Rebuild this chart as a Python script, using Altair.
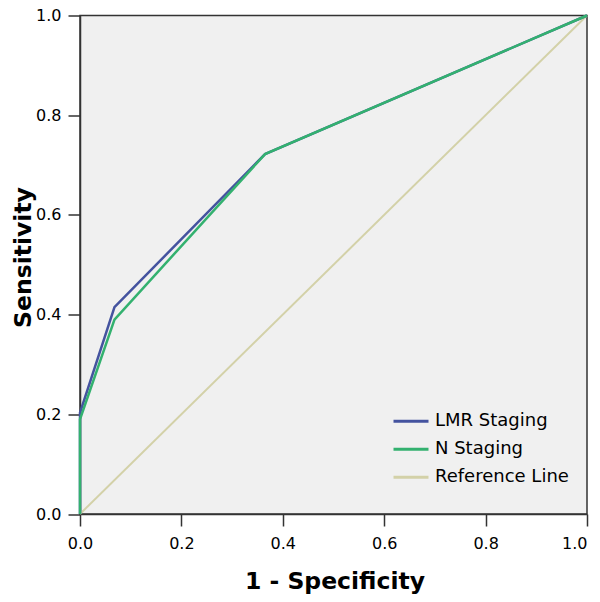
import altair as alt
import pandas as pd

# ROC curve points
lmr_fpr = [0.0, 0.0, 0.068, 0.365, 1.0]
lmr_tpr = [0.0, 0.203, 0.415, 0.722, 1.0]
n_fpr = [0.0, 0.0, 0.068, 0.365, 1.0]
n_tpr = [0.0, 0.19, 0.39, 0.722, 1.0]
ref_x = [0.0, 1.0]
ref_y = [0.0, 1.0]

series = ["LMR Staging", "N Staging", "Reference Line"]
colors = ["#44539F", "#33B16F", "#D3D1A8"]
ticks = [0.0, 0.2, 0.4, 0.6, 0.8, 1.0]

rows = []
for name, xs, ys in [(series[0], lmr_fpr, lmr_tpr),
                     (series[1], n_fpr, n_tpr),
                     (series[2], ref_x, ref_y)]:
    for i, (a, b) in enumerate(zip(xs, ys)):
        rows.append({"fpr": a, "tpr": b, "series": name, "idx": i})
df = pd.DataFrame(rows)

FONT = "DejaVu Sans"
W, H = 507, 498.5

x_enc = alt.X("fpr:Q", scale=alt.Scale(domain=[0, 1], nice=False),
              axis=alt.Axis(values=ticks, format=".1f", title="1 - Specificity",
                            grid=False, tickSize=12, labelPadding=9,
                            labelFlush=False,
                            labelAlign={"condition": {"test": "datum.value >= 1", "value": "right"},
                                        "value": "center"},
                            labelFontSize=16, labelFont=FONT, labelColor="#000",
                            titleFont=FONT, titleFontSize=23.5, titleFontWeight="bold",
                            titleColor="#000", titleBaseline="alphabetic",
                            titleY=74, titleX=W / 2 + 1, titleAnchor="middle"))
y_enc = alt.Y("tpr:Q", scale=alt.Scale(domain=[0, 1], nice=False),
              axis=alt.Axis(values=ticks, format=".1f", title="Sensitivity",
                            grid=False, tickSize=12, labelPadding=7,
                            labelFlush=False,
                            labelFontSize=16, labelFont=FONT, labelColor="#000",
                            titleFont=FONT, titleFontSize=23.5, titleFontWeight="bold",
                            titleColor="#000", titleBaseline="alphabetic",
                            titleAngle=-90, titleX=-50, titleY=241.5,
                            titleAnchor="middle"))
color_enc = alt.Color("series:N",
                      scale=alt.Scale(domain=series, range=colors),
                      legend=alt.Legend(title=None, orient="none",
                                        legendX=312, legendY=392,
                                        symbolType="stroke", symbolSize=1225,
                                        symbolStrokeWidth=3, clipHeight=27.5,
                                        rowPadding=0, padding=0, labelOffset=5,
                                        labelFont=FONT, labelFontSize=18,
                                        labelColor="#000", labelLimit=300))

base = alt.Chart(df)

ref = base.transform_filter(alt.datum.series == series[2]).mark_line(
    strokeWidth=2).encode(x=x_enc, y=y_enc, color=color_enc, order="idx:Q")
lmr = base.transform_filter(alt.datum.series == series[0]).mark_line(
    strokeWidth=2.5).encode(x=x_enc, y=y_enc, color=color_enc, order="idx:Q")
nst = base.transform_filter(alt.datum.series == series[1]).mark_line(
    strokeWidth=2.5).encode(x=x_enc, y=y_enc, color=color_enc, order="idx:Q")

chart = alt.layer(ref, lmr, nst).properties(
    width=W, height=H,
    autosize=alt.AutoSizeParams(type="none"),
    padding={"left": 72, "top": 7.5, "right": 5, "bottom": 80},
    background="white",
).configure_view(
    fill="#F0F0F0", stroke="#333333", strokeWidth=1.5
).configure_axis(
    domainColor="#333333", domainWidth=1.5, tickColor="#333333", tickWidth=1.5
)

chart.save("out.html", embed_options={"renderer": "svg", "actions": False})
